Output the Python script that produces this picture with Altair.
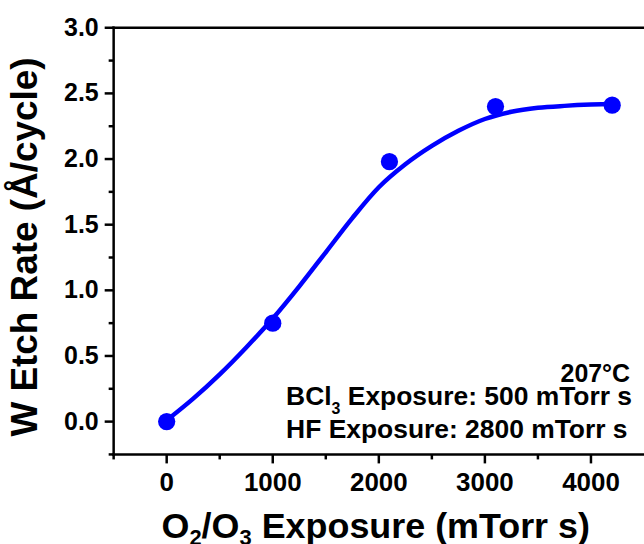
import altair as alt
import pandas as pd

# Measured etch rates
exposure = [0, 1000, 2100, 3100, 4200]
etch_rate = [0.0, 0.75, 1.98, 2.40, 2.41]

# Sigmoidal fit through the measurements
fit_exposure = [0, 250, 500, 750, 1000, 1250, 1500, 1750, 2000, 2250,
                2500, 2750, 3000, 3250, 3500, 3750, 4000, 4200]
fit_rate = [0.01, 0.175, 0.36, 0.565, 0.785, 1.03, 1.29, 1.55, 1.785, 1.96,
            2.10, 2.215, 2.305, 2.36, 2.39, 2.405, 2.415, 2.42]

# Tick positions and their labels
x_major = [0, 1000, 2000, 3000, 4000]
x_labels = ["0", "1000", "2000", "3000", "4000"]
x_minor = [-500, 500, 1500, 2500, 3500]
y_major = [0.0, 0.5, 1.0, 1.5, 2.0, 2.5, 3.0]
y_labels = ["0.0", "0.5", "1.0", "1.5", "2.0", "2.5", "3.0"]
y_minor = [-0.25, 0.25, 0.75, 1.25, 1.75, 2.25, 2.75]

BLUE = "#0000FF"
FONT = "Liberation Sans"

W, H = 532, 428
PAD_L, PAD_T = 114, 27
LW = 2.5

# Advance widths of the bold sans face (units per 1000 em)
ADV = {'O': 778, '/': 278, '2': 556, '3': 556, ' ': 278, 'E': 667, 'x': 556,
       'p': 611, 'o': 611, 's': 556, 'u': 611, 'r': 389, 'e': 556, '(': 333,
       ')': 333, 'm': 889, 'T': 611, 'B': 722, 'C': 722, 'l': 278, ':': 333,
       '0': 556, '5': 556, '8': 556, 'H': 722, 'F': 611}


def advance(s, size):
    return sum(ADV[c] for c in s) * size / 1000.0


def rich_text(segments, x0, baseline):
    """Lay out (text, size, shift) runs left to right as separate text marks."""
    layers = []
    x = x0
    for text, size, shift in segments:
        lead = len(text) - len(text.lstrip(" "))
        x += advance(" " * lead, size)
        body = text.lstrip(" ")
        layers.append(
            alt.Chart(pd.DataFrame({"t": [body]}))
            .mark_text(align="left", baseline="alphabetic", font=FONT,
                       fontSize=size, fontWeight="bold", color="black")
            .encode(text="t:N", x=alt.value(x), y=alt.value(baseline + shift))
        )
        x += advance(body, size)
    return layers


x_scale = alt.Scale(domain=[-500, 4500], nice=False, zero=False)
y_scale = alt.Scale(domain=[-0.25, 3.0], nice=False, zero=False)

fit_df = pd.DataFrame({"exposure": fit_exposure, "rate": fit_rate})
pts_df = pd.DataFrame({"exposure": exposure, "rate": etch_rate})

fit_line = alt.Chart(fit_df).mark_line(
    color=BLUE, strokeWidth=4.5, interpolate="monotone"
).encode(
    x=alt.X("exposure:Q", scale=x_scale, axis=None),
    y=alt.Y("rate:Q", scale=y_scale, axis=None),
)

points = alt.Chart(pts_df).mark_circle(
    color=BLUE, size=300, opacity=1
).encode(
    x=alt.X("exposure:Q", scale=x_scale, axis=None),
    y=alt.Y("rate:Q", scale=y_scale, axis=None),
)

# Axis lines: bottom, left and the upper frame edge
rule_style = dict(color="black", strokeWidth=LW, strokeCap="square")
bottom_line = alt.Chart(pd.DataFrame({"v": [-0.25]})).mark_rule(**rule_style).encode(
    y=alt.Y("v:Q", scale=y_scale, axis=None), x=alt.value(0), x2=alt.value(W),
)
top_line = alt.Chart(pd.DataFrame({"v": [3.0]})).mark_rule(**rule_style).encode(
    y=alt.Y("v:Q", scale=y_scale, axis=None), x=alt.value(0), x2=alt.value(W),
)
left_line = alt.Chart(pd.DataFrame({"v": [-500]})).mark_rule(**rule_style).encode(
    x=alt.X("v:Q", scale=x_scale, axis=None), y=alt.value(0), y2=alt.value(H),
)

# Tick marks (outward), major and minor
tick_style = dict(color="black", strokeWidth=LW)
x_major_ticks = alt.Chart(pd.DataFrame({"v": x_major})).mark_rule(**tick_style).encode(
    x=alt.X("v:Q", scale=x_scale, axis=None), y=alt.value(H), y2=alt.value(H + 9),
)
x_minor_ticks = alt.Chart(pd.DataFrame({"v": x_minor})).mark_rule(**tick_style).encode(
    x=alt.X("v:Q", scale=x_scale, axis=None), y=alt.value(H), y2=alt.value(H + 5),
)
y_major_ticks = alt.Chart(pd.DataFrame({"v": y_major})).mark_rule(**tick_style).encode(
    y=alt.Y("v:Q", scale=y_scale, axis=None), x=alt.value(0), x2=alt.value(-9),
)
y_minor_ticks = alt.Chart(pd.DataFrame({"v": y_minor})).mark_rule(**tick_style).encode(
    y=alt.Y("v:Q", scale=y_scale, axis=None), x=alt.value(0), x2=alt.value(-5),
)

# Tick labels
x_tick_labels = alt.Chart(pd.DataFrame({"v": x_major, "t": x_labels})).mark_text(
    align="center", baseline="alphabetic", font=FONT, fontSize=26,
    fontWeight="bold", color="black"
).encode(
    x=alt.X("v:Q", scale=x_scale, axis=None), y=alt.value(492 - PAD_T), text="t:N",
)
y_tick_labels = alt.Chart(pd.DataFrame({"v": y_major, "t": y_labels})).mark_text(
    align="right", baseline="middle", font=FONT, fontSize=25,
    fontWeight="bold", color="black"
).encode(
    y=alt.Y("v:Q", scale=y_scale, axis=None), x=alt.value(-15), text="t:N",
)

# Axis titles
y_title = alt.Chart(pd.DataFrame({"t": ["W Etch Rate (Å/cycle)"]})).mark_text(
    angle=270, align="center", baseline="alphabetic", font=FONT,
    fontSize=37, fontWeight="bold", color="black"
).encode(text="t:N", x=alt.value(37 - PAD_L), y=alt.value(247 - PAD_T))

x_title = rich_text(
    [("O", 36, 0), ("2", 22, 7), ("/O", 36, 0), ("3", 22, 7),
     (" Exposure (mTorr s)", 36, 0)],
    x0=162 - PAD_L, baseline=539 - PAD_T,
)

# Process conditions
temp_label = alt.Chart(pd.DataFrame({"t": ["207°C"]})).mark_text(
    align="right", baseline="alphabetic", font=FONT, fontSize=25,
    fontWeight="bold", color="black"
).encode(text="t:N", x=alt.value(632 - PAD_L), y=alt.value(382 - PAD_T))

bcl3_label = rich_text(
    [("BCl", 26.5, 0), ("3", 16, 9), (" Exposure: 500 mTorr s", 26.5, 0)],
    x0=287 - PAD_L, baseline=405 - PAD_T,
)
hf_label = rich_text(
    [("HF Exposure: 2800 mTorr s", 26.5, 0)],
    x0=287 - PAD_L, baseline=439 - PAD_T,
)

chart = alt.layer(
    bottom_line, top_line, left_line,
    x_major_ticks, x_minor_ticks, y_major_ticks, y_minor_ticks,
    x_tick_labels, y_tick_labels,
    fit_line, points, y_title, temp_label,
    *x_title, *bcl3_label, *hf_label,
).properties(
    width=W, height=H, background="white",
    padding={"left": PAD_L, "top": PAD_T, "right": 0, "bottom": 544 - PAD_T - H},
    autosize=alt.AutoSizeParams(type="none"),
).configure_view(stroke=None)

chart.save("out.html", embed_options={"renderer": "svg", "actions": False})
